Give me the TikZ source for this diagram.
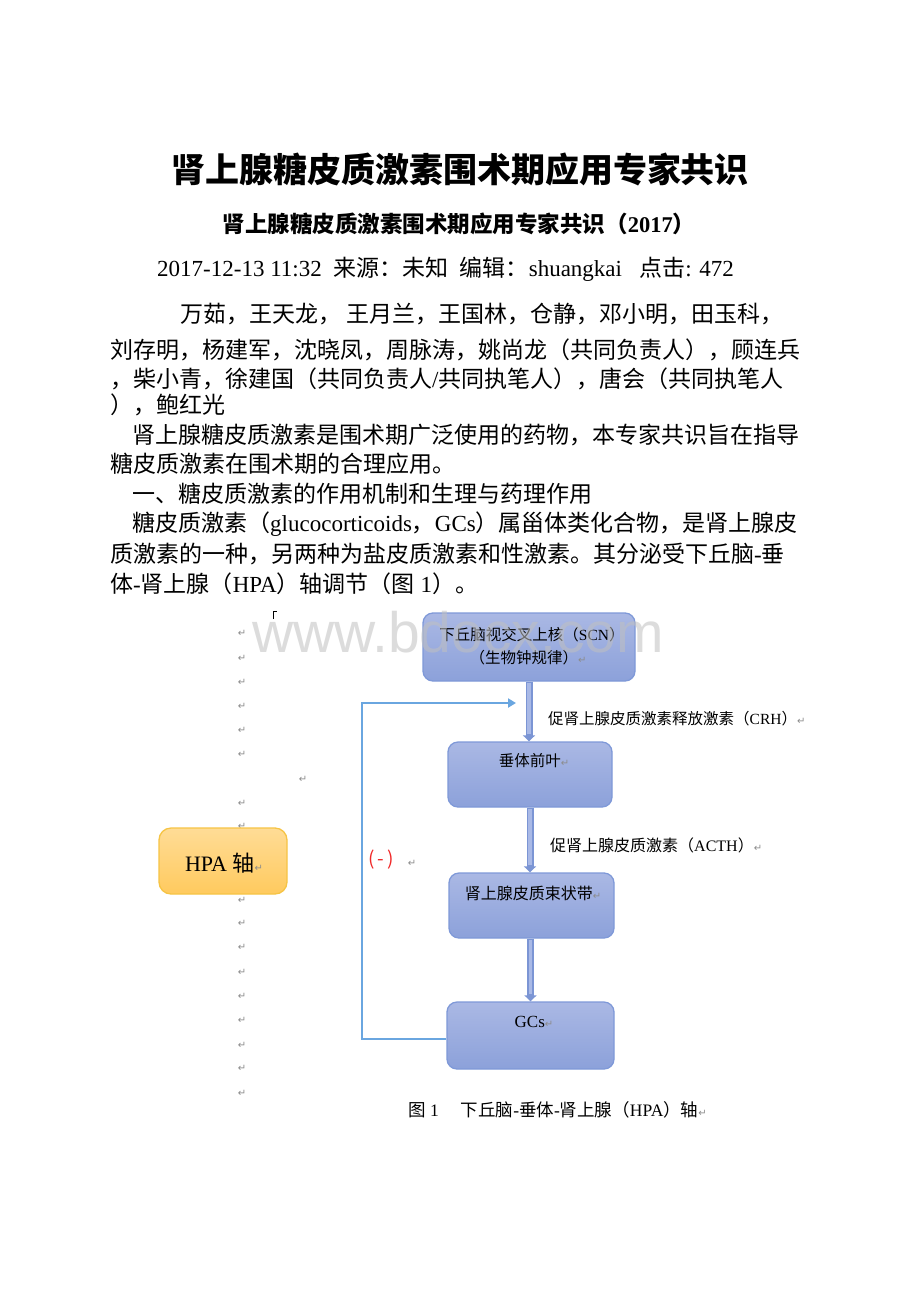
\documentclass[tikz,border=0pt]{standalone}
\usepackage{fontspec}
\setmainfont{Liberation Serif}
\newfontfamily\cjk{Noto Sans CJK SC}
\newfontfamily\djv{DejaVu Sans}
\newfontfamily\wmfont{Liberation Sans}
\usetikzlibrary{arrows.meta}
\definecolor{pmgray}{HTML}{8C8C8C}
\definecolor{boxtop}{HTML}{AAB8E4}
\definecolor{boxbot}{HTML}{8CA1DA}
\definecolor{boxborder}{HTML}{7F99D8}
\definecolor{hpatop}{HTML}{FFDC96}
\definecolor{hpabot}{HTML}{FFCA5E}
\definecolor{hpaborder}{HTML}{F6C445}
\definecolor{fbblue}{HTML}{6AA6E0}
\definecolor{arrowout}{HTML}{7B95D4}
\definecolor{arrowin}{HTML}{A9B9E6}
\definecolor{negred}{HTML}{F02828}
\definecolor{wmgray}{HTML}{C0C0C0}
\newcommand\zh[1]{{\cjk #1}}
\newcommand\fs[1]{\fontsize{#1}{#1}\selectfont}
\newcommand\parmark{{\djv\fontsize{10}{10}\selectfont\color{pmgray}↵}}
\begin{document}
\begin{tikzpicture}[x=1pt,y=-1pt,
  txt/.style={anchor=west, inner sep=0pt},
  ctxt/.style={inner sep=0pt},
  bluebox/.style={draw=boxborder, line width=1.3pt, rounded corners=10pt, top color=boxtop, bottom color=boxbot, inner sep=0pt},
  hpabox/.style={draw=hpaborder, line width=1.3pt, rounded corners=12pt, top color=hpatop, bottom color=hpabot, inner sep=0pt},
  darrowout/.style={draw=arrowout, line width=7pt, -{Triangle[length=6pt,width=12pt]}},
  darrowin/.style={draw=arrowin, line width=3.5pt, shorten >=7pt, shorten <=1pt},
  fb/.style={draw=fbblue, line width=2pt},
  pmk/.style={inner sep=0pt}]
\fill[white] (0,0) rectangle (920,1302);
\useasboundingbox (0,0) rectangle (920,1302);

% header
\node[ctxt] (title) at (460,170) {\cjk\bfseries\fs{34}肾上腺糖皮质激素围术期应用专家共识};
\node[ctxt] (sub) at (459,224) {\bfseries\fs{22.5}\zh{肾上腺糖皮质激素围术期应用专家共识（}2017\zh{）}};
\node[txt] (date) at (157,269) {\fs{23}2017-12-13 11:32\ \ \zh{来源：未知}\ \ \zh{编辑：}shuangkai\ \ \ \zh{点击}: 472};

% body
\node[txt] (l1) at (180,314) {\fs{23}\zh{万茹，王天龙，\ 王月兰，王国林，仓静，邓小明，田玉科，}};
\node[txt] (l2) at (110,350) {\fs{23}\zh{刘存明，杨建军，沈晓凤，周脉涛，姚尚龙（共同负责人），顾连兵}};
\node[txt] (l3) at (110,379) {\fs{23}\zh{，柴小青，徐建国（共同负责人}/\zh{共同执笔人），唐会（共同执笔人}};
\node[txt] (l4) at (110,405) {\fs{23}\zh{），鲍红光}};
\node[txt] (l5) at (132,435) {\fs{23}\zh{肾上腺糖皮质激素是围术期广泛使用的药物，本专家共识旨在指导}};
\node[txt] (l6) at (110,464) {\fs{23}\zh{糖皮质激素在围术期的合理应用。}};
\node[txt] (l7) at (132,494) {\fs{23}\zh{一、糖皮质激素的作用机制和生理与药理作用}};
\node[txt] (l8) at (132,524) {\fs{23}\zh{糖皮质激素（}glucocorticoids\zh{，}GCs\zh{）属甾体类化合物，是肾上腺皮}};
\node[txt] (l9) at (110,554) {\fs{23}\zh{质激素的一种，另两种为盐皮质激素和性激素。其分泌受下丘脑}-\zh{垂}};
\node[txt] (l10) at (110,584) {\fs{23}\zh{体}-\zh{肾上腺（}HPA\zh{）轴调节（图}~1\zh{）。}};

% small corner mark
\draw[line width=0.7pt] (273,619) -- (273,611) -- (277,611);

% paragraph marks
\foreach \yy [count=\i] in {633,658,682,706,730,754,803,826,900,923,947,972,996,1020,1045,1068,1093}
  \node[pmk] (pm\i) at (242,\yy) {\parmark};
\node[pmk] (pmx) at (303,779) {\parmark};

% boxes
\node[bluebox, minimum width=212pt, minimum height=68pt] (b1) at (529,647) {};
\node[bluebox, minimum width=164pt, minimum height=65pt] (b2) at (530,774.5) {};
\node[bluebox, minimum width=165pt, minimum height=65pt] (b3) at (531.5,905.5) {};
\node[bluebox, minimum width=167pt, minimum height=67pt] (b4) at (530.5,1035.5) {};
\node[hpabox, minimum width=128pt, minimum height=66pt] (hpa) at (223,861) {};

% feedback loop
\coordinate (fbc) at (362,703);
\coordinate (fbe) at (516,703);
\draw[fb, -{Triangle[length=8pt,width=9pt]}] ([yshift=-3.5pt]b4.west) -| (fbc) -- (fbe);

% down arrows
\draw[darrowout] (b1.south) -- (b1.south |- b2.north);
\draw[darrowin] (b1.south) -- (b1.south |- b2.north);
\draw[darrowout] (b2.south) -- (b2.south |- b3.north);
\draw[darrowin] (b2.south) -- (b2.south |- b3.north);
\draw[darrowout] ([xshift=-1pt]b3.south) -- ([xshift=-1pt]b3.south |- b4.north);
\draw[darrowin] ([xshift=-1pt]b3.south) -- ([xshift=-1pt]b3.south |- b4.north);

% box texts
\node[ctxt] (t1a) at (532,635) {\fs{15.5}\zh{下丘脑视交叉上核（}SCN\zh{）}};
\node[ctxt] (t1b) at (528,658) {\fs{15.5}\zh{（生物钟规律）}\parmark};
\node[ctxt] (t2) at (534,761) {\fs{15.5}\zh{垂体前叶}\parmark};
\node[ctxt] (t3) at (533,893) {\fs{16}\zh{肾上腺皮质束状带}\parmark};
\node[ctxt] (t4) at (534,1022) {\fs{17}GCs\parmark};
\node[ctxt] (th) at (224,863) {\fs{22}HPA\ \zh{轴}\parmark};

% arrow labels
\node[txt] (crh) at (548,719) {\fs{15.5}\zh{促肾上腺皮质激素释放激素（}CRH\zh{）}\parmark};
\node[txt] (acth) at (550,845) {\fs{16}\zh{促肾上腺皮质激素（}ACTH\zh{）}\parmark};

% negative feedback sign
\node[ctxt] (neg) at (381,860) {\cjk\fs{19}\color{negred}(\,-\,)};
\node[pmk] (negpm) at (412,863) {\parmark};

% caption
\node[txt] (cap) at (408,1110) {\fs{17.5}\zh{图}~1\hspace{22pt}\zh{下丘脑}-\zh{垂体}-\zh{肾上腺（}HPA\zh{）轴}\parmark};

% watermark
\node[inner sep=0pt, anchor=base, text=wmgray, opacity=0.55] (wm) at (458,652) {\wmfont\fs{57}www.bdocx.com};
\end{tikzpicture}
\end{document}
